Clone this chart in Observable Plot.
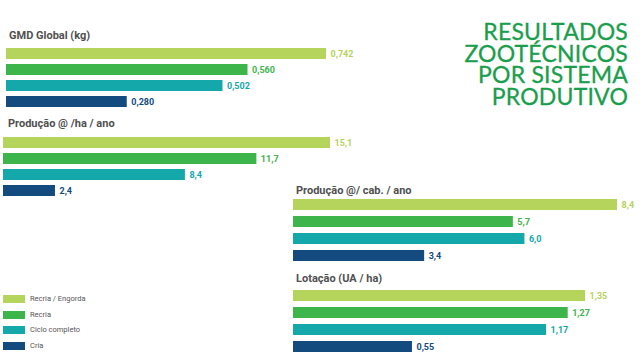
<!DOCTYPE html>
<html>
<head>
<meta charset="utf-8">
<script src="https://cdn.jsdelivr.net/npm/d3@7"></script>
<script src="https://cdn.jsdelivr.net/npm/@observablehq/plot@0.6"></script>
<style>
  html, body { margin: 0; padding: 0; background: #fff; }
  #root { position: relative; width: 640px; height: 360px; overflow: hidden; font-family: Roboto, "Noto Sans", sans-serif; }
  .pt { position: absolute; font-weight: bold; font-size: 11px; color: #505050; white-space: nowrap; line-height: 1; }
  .pl { position: absolute; }
  #title { position: absolute; right: 12px; top: 21px; text-align: right; font-family: Lato, "Open Sans", sans-serif; font-size: 23px; color: #1a9e4c; letter-spacing: 0.2px; -webkit-text-stroke: 0.3px #1a9e4c; }
  #title div { height: 21.6px; line-height: 21.6px; }
  .lg { position: absolute; left: 3px; display: flex; align-items: center; font-size: 7.5px; color: #555; }
  .lg span.sw { display: inline-block; width: 22px; height: 8px; margin-right: 5px; }
</style>
</head>
<body>
<div id="root"></div>
<script>
const series = ["Recria / Engorda", "Recria", "Ciclo completo", "Cria"];
const colors = ["#b4d45c", "#3db54b", "#14a8aa", "#144b7e"];
const gmd = [0.742, 0.560, 0.502, 0.280];
const prodHa = [15.1, 11.7, 8.4, 2.4];
const prodCab = [8.4, 5.7, 6.0, 3.4];
const lotacao = [1.35, 1.27, 1.17, 0.55];
const panelTitles = ["GMD Global (kg)", "Produção @ /ha / ano", "Produção @/ cab. / ano", "Lotação (UA / ha)"];
const titleLines = ["RESULTADOS", "ZOOTÉCNICOS", "POR SISTEMA", "PRODUTIVO"];

const root = document.getElementById("root");

function panel(values, decimals, box) {
  const data = series.map((s, i) => ({s, v: values[i]}));
  const fmt = v => v.toFixed(decimals).replace(".", ",");
  const chart = Plot.plot({
    width: box.width,
    height: box.height,
    margin: 0,
    style: {background: "transparent", overflow: "visible", fontFamily: "Roboto, sans-serif"},
    x: {domain: [0, d3.max(values)], range: box.xRange, axis: null},
    y: {domain: series, range: box.yRange, paddingInner: 0.33, paddingOuter: 0, axis: null},
    color: {domain: series, range: colors},
    marks: [
      Plot.barX(data, {x: "v", y: "s", fill: "s"}),
      Plot.text(data, {x: "v", y: "s", text: d => fmt(d.v), fill: "s", textAnchor: "start", dx: 4, fontWeight: "bold", fontSize: 9})
    ]
  });
  const wrap = document.createElement("div");
  wrap.className = "pl";
  wrap.style.left = box.left + "px";
  wrap.style.top = box.top + "px";
  wrap.appendChild(chart);
  root.appendChild(wrap);
}

function ptitle(text, left, top) {
  const d = document.createElement("div");
  d.className = "pt";
  d.style.left = left + "px";
  d.style.top = top + "px";
  d.textContent = text;
  root.appendChild(d);
}

panel(gmd, 3, {left: 0, top: 44, width: 360, height: 66, xRange: [6, 326], yRange: [3, 63]});
panel(prodHa, 1, {left: 0, top: 132, width: 360, height: 70, xRange: [3, 330], yRange: [4, 65]});
panel(prodCab, 1, {left: 290, top: 195, width: 350, height: 70, xRange: [3, 327], yRange: [4, 67]});
panel(lotacao, 2, {left: 290, top: 285, width: 350, height: 72, xRange: [3, 295], yRange: [4, 68]});

ptitle(panelTitles[0], 9, 30);
ptitle(panelTitles[1], 8, 118);
ptitle(panelTitles[2], 296, 185);
ptitle(panelTitles[3], 296, 273);

const t = document.createElement("div");
t.id = "title";
titleLines.forEach(line => {
  const l = document.createElement("div");
  l.textContent = line;
  t.appendChild(l);
});
root.appendChild(t);

const lgTops = [294, 310, 325, 341];
series.forEach((s, i) => {
  const d = document.createElement("div");
  d.className = "lg";
  d.style.top = lgTops[i] + "px";
  const sw = document.createElement("span");
  sw.className = "sw";
  sw.style.background = colors[i];
  d.appendChild(sw);
  d.appendChild(document.createTextNode(s));
  root.appendChild(d);
});
</script>
</body>
</html>
